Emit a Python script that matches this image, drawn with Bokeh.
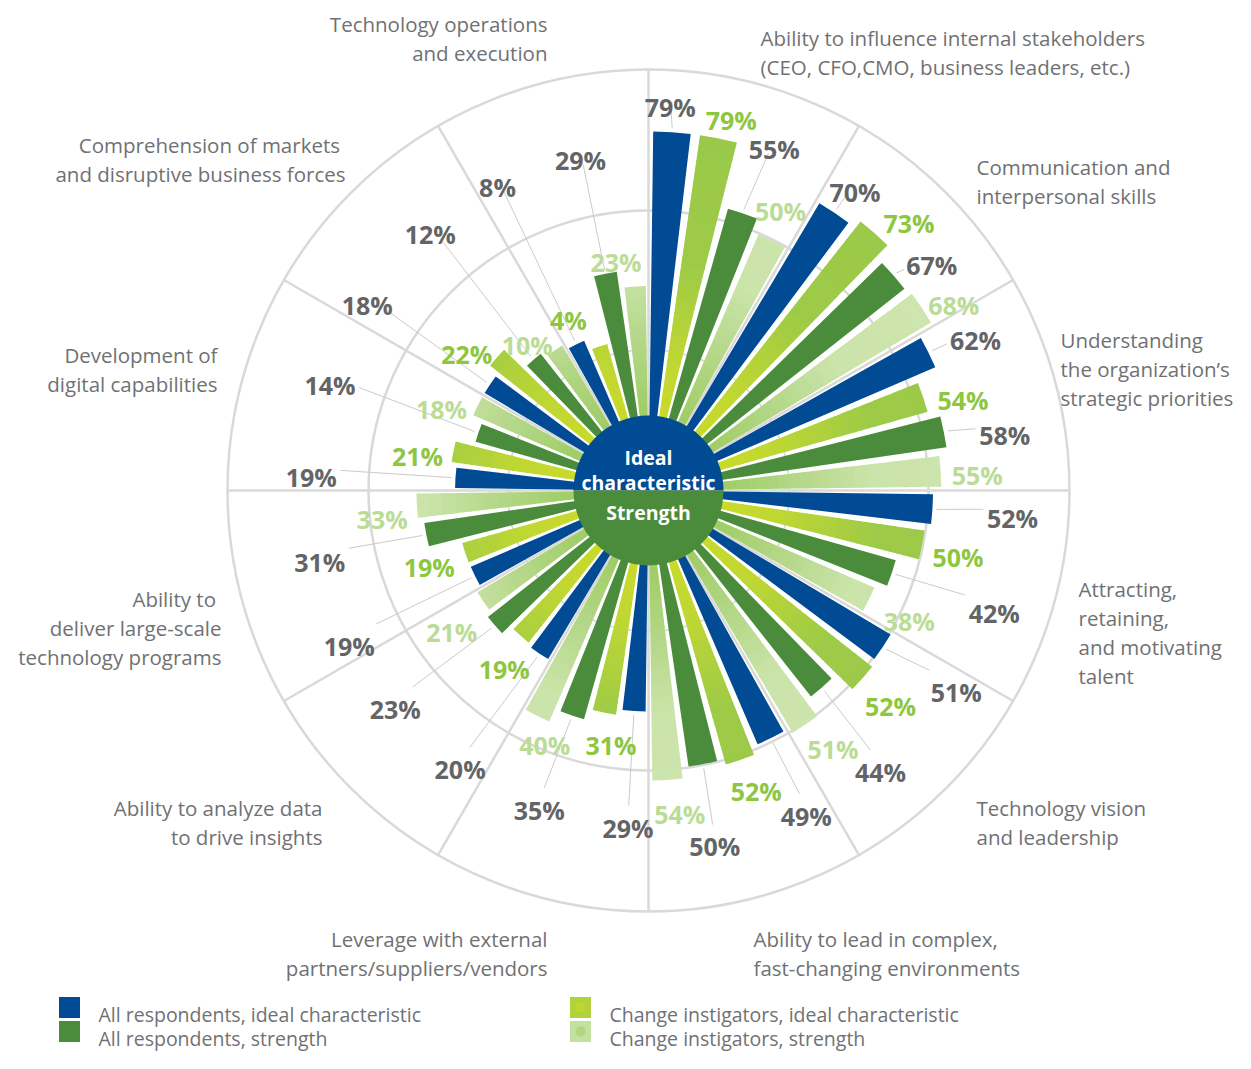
import math
from bokeh.plotting import figure
from bokeh.models import Range1d, ColumnDataSource
from bokeh.core.properties import value
from bokeh.embed import file_html
from bokeh.resources import INLINE

# ---------------- data ----------------
categories = [
    ["Ability to influence internal stakeholders", "(CEO, CFO,CMO, business leaders, etc.)"],
    ["Communication and", "interpersonal skills"],
    ["Understanding", "the organization\u2019s", "strategic priorities"],
    ["Attracting,", "retaining,", "and motivating", "talent"],
    ["Technology vision", "and leadership"],
    ["Ability to lead in complex,", "fast-changing environments"],
    ["Leverage with external", "partners/suppliers/vendors"],
    ["Ability to analyze data", "to drive insights"],
    ["Ability to ", "deliver large-scale", "technology programs"],
    ["Development of", "digital capabilities"],
    ["Comprehension of markets ", "and disruptive business forces"],
    ["Technology operations", "and execution"],
]
all_ideal = [79, 70, 62, 52, 51, 49, 29, 20, 19, 19, 18, 8]
ci_ideal = [79, 73, 54, 50, 52, 52, 31, 19, 19, 21, 22, 4]
all_strength = [55, 67, 58, 42, 44, 50, 35, 23, 31, 14, 12, 29]
ci_strength = [50, 68, 55, 38, 51, 54, 40, 21, 33, 18, 10, 23]
series_names = ["All respondents, ideal characteristic",
                "Change instigators, ideal characteristic",
                "All respondents, strength",
                "Change instigators, strength"]
hub_top = ["Ideal", "characteristic"]
hub_bottom = ["Strength"]

# ---------------- layout / style ----------------
W, H = 1235, 1053
OFF_X, OFF_Y = 0, 8         # where the figure's top-left lands in the picture
CX, CY = 648, 498           # position of the chart centre in the picture
HUB_R = 75
R0, K = 141, 2.76           # radial scale: r = R0 + K * value
OUTER_R, MID_R = 421, 280
SLOT, BAR_W = 7.5, 6.0      # degrees

BLUE = "#004B93"
DGREEN = "#4A8C3C"
GRID = "#D9D9D9"
LEADER = "#CBCBCB"
GRAY_TXT = "#636466"
CAT_TXT = "#707173"
LG_TXT = "#8DC63F"
PALE_TXT = "#BADC96"
LG_STOPS = [(60, "#CBDB29"), (130, "#C0D732"), (230, "#9ECB47"), (420, "#98C84A")]
PALE_STOPS = [(60, "#9CCB5E"), (130, "#AED47F"), (225, "#CBE4AA"), (420, "#D0E6B2")]

FONT = value("Open Sans")

# label centres (picture px) per sector: [all ideal, ci ideal, all strength, ci strength]
LABEL_XY = [
    [(669.7, 105.8), (730.8, 118.7), (773.7, 147.7), (780, 209.5)],
    [(854.5, 190.5), (908.5, 221.7), (931.3, 263.8), (953.3, 303.3)],
    [(975, 338.3), (962.5, 398.7), (1004.2, 433.8), (976.7, 474)],
    [(1012, 516.7), (957.5, 555.8), (993.8, 611.2), (908.8, 619.2)],
    [(955.8, 690.8), (890, 704.2), (880, 770.5), (832.5, 747.5)],
    [(805.8, 814.2), (755.8, 790), (714.2, 845), (679.2, 812.5)],
    [(627.5, 826.2), (610.5, 743.8), (538.7, 808.3), (544.2, 743.8)],
    [(459.6, 768), (503.7, 667.2), (394.7, 707.5), (451.3, 630.5)],
    [(348.8, 644.5), (428.7, 565.8), (319.2, 560.8), (381.7, 517.5)],
    [(310.8, 476), (417, 455), (329.5, 384), (441, 407.5)],
    [(366.7, 303.7), (466.3, 353), (429.7, 233), (526.7, 344)],
    [(497, 185.7), (567.8, 318.3), (580, 159), (615.5, 261)],
]
# category text anchors: (x, first baseline, align)
CAT_ANCHOR = [
    (760, 45, "left"), (976, 174, "left"), (1060, 347, "left"), (1078, 596, "left"),
    (976, 815, "left"), (753, 946, "left"), (547, 946, "right"), (322, 815, "right"),
    (221, 606, "right"), (217, 362, "right"), (345, 152, "right"), (547, 31, "right"),
]
LINE_H = 29
PCT_FS = 25
CAT_FS = 20.5


def dx(x):
    return x - CX


def dy(y):
    return CY - y


def rad(v):
    return R0 + K * v


def hex2rgb(h):
    h = h.lstrip("#")
    return [int(h[i:i + 2], 16) for i in (0, 2, 4)]


def grad(stops, r):
    if r <= stops[0][0]:
        return stops[0][1]
    for (r0, c0), (r1, c1) in zip(stops, stops[1:]):
        if r <= r1:
            t = (r - r0) / (r1 - r0)
            a, b = hex2rgb(c0), hex2rgb(c1)
            return "#%02x%02x%02x" % tuple(int(round(a[k] + (b[k] - a[k]) * t)) for k in range(3))
    return stops[-1][1]


p = figure(width=W, height=H,
           x_range=Range1d(OFF_X - CX, OFF_X + W - CX),
           y_range=Range1d(CY - (OFF_Y + H), CY - OFF_Y),
           output_backend="svg", toolbar_location=None,
           x_axis_location=None, y_axis_location=None, title=None,
           min_border=0, outline_line_color=None,
           background_fill_color="white", border_fill_color="white")
p.grid.visible = False

# ---- rings and sector dividers ----
p.circle(x=[0, 0, 0], y=[0, 0, 0], radius=[OUTER_R, MID_R, R0],
         fill_color=None, line_color=GRID, line_width=[2.5, 2.5, 1.8])
n = len(categories)
div_a = [math.radians(360.0 / n * i) for i in range(n)]
p.segment(x0=[0] * n, y0=[0] * n,
          x1=[OUTER_R * math.sin(a) for a in div_a],
          y1=[OUTER_R * math.cos(a) for a in div_a],
          line_color=GRID, line_width=2.5)

# ---- bars ----
series_vals = [all_ideal, ci_ideal, all_strength, ci_strength]


def bar_angles(i, j):
    th = 360.0 / n * i + SLOT * j + SLOT / 2
    phi = 90.0 - th
    return math.radians(phi - BAR_W / 2), math.radians(phi + BAR_W / 2), math.radians(th)


solid = dict(ir=[], orr=[], sa=[], ea=[], c=[])
for j, col in ((0, BLUE), (2, DGREEN)):
    for i in range(n):
        sa, ea, _ = bar_angles(i, j)
        solid["ir"].append(HUB_R - 15)
        solid["orr"].append(rad(series_vals[j][i]))
        solid["sa"].append(sa)
        solid["ea"].append(ea)
        solid["c"].append(col)
solid["x"] = [0] * len(solid["c"])
solid["y"] = [0] * len(solid["c"])
p.annular_wedge(x="x", y="y", inner_radius="ir", outer_radius="orr",
                start_angle="sa", end_angle="ea", fill_color="c", line_color=None,
                source=ColumnDataSource(solid))

STEP = 7
graded = dict(ir=[], orr=[], sa=[], ea=[], c=[])
for j, stops in ((1, LG_STOPS), (3, PALE_STOPS)):
    for i in range(n):
        sa, ea, _ = bar_angles(i, j)
        r_end = rad(series_vals[j][i])
        r = HUB_R - 15
        while r < r_end:
            r2 = min(r + STEP, r_end)
            graded["ir"].append(r)
            graded["orr"].append(min(r2 + 1, r_end))
            graded["sa"].append(sa)
            graded["ea"].append(ea)
            graded["c"].append(grad(stops, (r + r2) / 2))
            r = r2
graded["x"] = [0] * len(graded["c"])
graded["y"] = [0] * len(graded["c"])
p.annular_wedge(x="x", y="y", inner_radius="ir", outer_radius="orr",
                start_angle="sa", end_angle="ea", fill_color="c", line_color=None,
                source=ColumnDataSource(graded))

# ---- hub ----
p.wedge(x=[0, 0], y=[0, 0], radius=HUB_R, start_angle=[0, math.pi],
        end_angle=[math.pi, 2 * math.pi], fill_color=[BLUE, DGREEN], line_color=None)
p.text(x=[0, 0, 0], y=[dy(465), dy(490), dy(520)], text=hub_top + hub_bottom,
       text_font=FONT, text_font_style="bold", text_font_size=value("19.5px"),
       text_color="white", text_align="center", text_baseline="alphabetic")

# ---- percentage labels and leader lines ----
lab = dict(x=[], y=[], t=[], c=[])
lead = dict(x0=[], y0=[], x1=[], y1=[])
lab_col = [GRAY_TXT, LG_TXT, GRAY_TXT, PALE_TXT]
for i in range(n):
    for j in range(4):
        v = series_vals[j][i]
        txt = "%d%%" % v
        lx, ly = LABEL_XY[i][j]
        lab["x"].append(dx(lx))
        lab["y"].append(dy(ly + 0.357 * PCT_FS))
        lab["t"].append(txt)
        lab["c"].append(lab_col[j])
        if j in (0, 2):
            _, _, th = bar_angles(i, j)
            r = rad(v) + 4
            bx, by = r * math.sin(th), r * math.cos(th)
            cx, cy = dx(lx), dy(ly)
            ddx, ddy = bx - cx, by - cy
            tw = (0.572 * (len(txt) - 1) + 0.87) * PCT_FS
            hw, hh = tw / 2 + 4, 13
            t = min(hw / abs(ddx) if ddx else 1e9, hh / abs(ddy) if ddy else 1e9)
            if t < 0.85:
                lead["x0"].append(cx + t * ddx)
                lead["y0"].append(cy + t * ddy)
                lead["x1"].append(bx)
                lead["y1"].append(by)
p.segment(x0="x0", y0="y0", x1="x1", y1="y1", line_color=LEADER, line_width=1,
          source=ColumnDataSource(lead))
p.text(x="x", y="y", text="t", text_color="c", source=ColumnDataSource(lab),
       text_font=FONT, text_font_style="bold", text_font_size=value("%dpx" % PCT_FS),
       text_align="center", text_baseline="alphabetic")

# ---- category labels ----
cat = dict(x=[], y=[], t=[], a=[])
for i, lines in enumerate(categories):
    ax, ay, al = CAT_ANCHOR[i]
    for k, line in enumerate(lines):
        shift = -5.5 if (al == "right" and line.endswith(" ")) else 0
        cat["x"].append(dx(ax + shift))
        cat["y"].append(dy(ay + k * LINE_H))
        cat["t"].append(line.strip())
        cat["a"].append(al)
p.text(x="x", y="y", text="t", text_align="a", source=ColumnDataSource(cat),
       text_font=FONT, text_font_size=value("%spx" % CAT_FS), text_color=CAT_TXT,
       text_baseline="alphabetic")

# ---- legend ----
LEG_X = [69, 69, 580, 580]
LEG_Y = [1015, 1039, 1015, 1039]
leg_cols = [BLUE, DGREEN, "#B0D23A", "#C2E09E"]
leg_order = [0, 2, 1, 3]
p.rect(x=[dx(v) for v in LEG_X], y=[dy(v) for v in LEG_Y], width=21, height=21,
       fill_color=[leg_cols[k] for k in range(4)], line_color=None)
p.circle(x=[dx(LEG_X[2]), dx(LEG_X[3])], y=[dy(LEG_Y[2]), dy(LEG_Y[3])], radius=5,
         fill_color=["#CCDB29", "#A3CE6A"], fill_alpha=0.6, line_color=None)
p.text(x=[dx(v + 29) for v in LEG_X], y=[dy(v + 7) for v in LEG_Y],
       text=[series_names[k] for k in leg_order],
       text_font=FONT, text_font_size=value("19.5px"), text_color=CAT_TXT,
       text_align="left", text_baseline="alphabetic")

open("out.html", "w").write(file_html(p, INLINE))
